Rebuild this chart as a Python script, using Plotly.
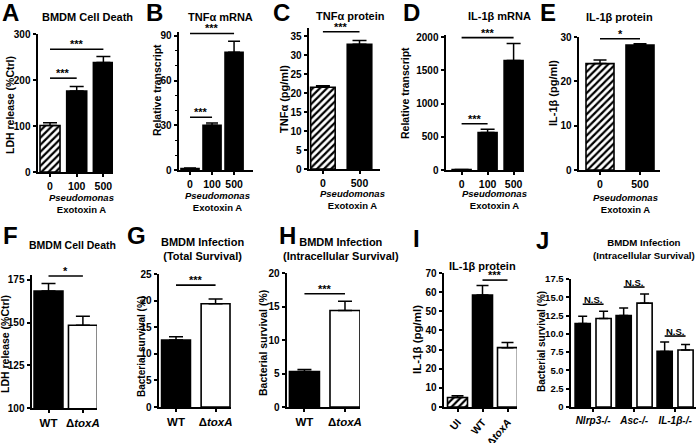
import plotly.graph_objects as go

FIG_W, FIG_H = 696, 443
FONT = "Liberation Sans"

# ---------------- data ----------------
# A  BMDM cell death vs exotoxin A dose
a_cats = ["0", "100", "500"]
a_vals = [101, 176, 238]
a_errs = [6, 10, 13]
# B  TNFa mRNA
b_cats = ["0", "100", "500"]
b_vals = [1, 30, 79]
b_errs = [0.3, 1.5, 7.5]
# C  TNFa protein
c_cats = ["0", "500"]
c_vals = [21.5, 32.8]
c_errs = [0.4, 1.0]
# D  IL-1b mRNA
d_cats = ["0", "100", "500"]
d_vals = [5, 565, 1650]
d_errs = [2, 50, 255]
# E  IL-1b protein
e_cats = ["0", "500"]
e_vals = [24.0, 28.2]
e_errs = [0.8, 0.3]
# F  BMDM cell death WT vs toxA
f_cats = ["WT", "Δ<i>toxA</i>"]
f_vals = [168.5, 148.5]
f_errs = [4.5, 5.3]
# G  total survival
g_cats = ["WT", "Δ<i>toxA</i>"]
g_vals = [12.6, 19.4]
g_errs = [0.6, 0.9]
# H  intracellular survival
h_cats = ["WT", "Δ<i>toxA</i>"]
h_vals = [5.3, 14.4]
h_errs = [0.3, 1.4]
# I  IL-1b protein
i_cats = ["UI", "WT", "Δ<i>toxA</i>"]
i_vals = [5.0, 58.5, 31.0]
i_errs = [0.9, 5.0, 2.7]
# J  intracellular survival in knockouts
j_cats = ["<i>Nlrp3-/-</i>", "<i>Asc-/-</i>", "<i>IL-1β-/-</i>"]
j_wt_vals = [11.4, 12.5, 7.6]
j_wt_errs = [1.0, 1.05, 1.3]
j_tox_vals = [12.1, 14.2, 7.8]
j_tox_errs = [1.0, 1.25, 0.75]

# significance brackets: (from category, to category, level, label)
a_sig = [(0, 1, 204, "***"), (0, 2, 267, "***")]
b_sig = [(0, 1, 35.4, "***"), (0, 2, 91.7, "***")]
c_sig = [(0, 1, 36.1, "***")]
d_sig = [(0, 1, 697, "***"), (0, 2, 1995, "***")]
e_sig = [(0, 1, 29.6, "*")]
f_sig = [(0, 1, 177.3, "*")]
g_sig = [(0, 1, 22.9, "***")]
h_sig = [(0, 1, 16.9, "***")]
i_sig = [(1, 2, 66.3, "***")]
j_sig_groups = [0, 1, 2]
j_sig_levels = [14.05, 16.4, 9.7]
j_sig_label = "N.S."

# ---------------- styles ----------------
HATCH, BLACK, WHITE = "hatch", "black", "white"


def px_x(p):
    return p / FIG_W


def px_y(p):
    return 1 - p / FIG_H


fig = go.Figure()
layout = dict(
    template="none",
    width=FIG_W, height=FIG_H,
    margin=dict(l=0, r=0, t=0, b=0, pad=0),
    paper_bgcolor="white", plot_bgcolor="white",
    showlegend=False, barmode="overlay",
    font=dict(family=FONT, size=11, color="black", weight="bold"),
)
shapes = []
annotations = []


def axis_common():
    return dict(showgrid=False, zeroline=False, showline=True, linecolor="black",
                linewidth=2, ticks="outside", tickcolor="black", tickwidth=1.5,
                fixedrange=True, automargin=False)


def add_panel(n, cats, xpx, ypx, yrange, ytickvals, xrange, ytickfont=10,
              xtickfont=10.5, yticktext=None, xtickangle=0, minor=None):
    xs = "" if n == 1 else str(n)
    xa = axis_common()
    xa.update(domain=[px_x(xpx[0]), px_x(xpx[1])], range=list(xrange),
              anchor="y" + xs, tickvals=list(range(len(cats))), ticktext=cats,
              ticklen=3, tickangle=xtickangle,
              tickfont=dict(size=xtickfont, family=FONT, weight="bold"))
    ya = axis_common()
    ya.update(domain=[px_y(ypx[1]), px_y(ypx[0])], range=list(yrange),
              anchor="x" + xs, tickvals=ytickvals, ticklen=3.5,
              tickfont=dict(size=ytickfont, family=FONT, weight="bold"))
    if yticktext is not None:
        ya["ticktext"] = yticktext
    if minor:
        ya["minor"] = dict(tickvals=minor, ticks="outside", ticklen=2,
                           tickcolor="black", tickwidth=1)
    layout["xaxis" + xs] = xa
    layout["yaxis" + xs] = ya
    return "x" + xs, "y" + xs


def add_bars(xref, yref, xs, vals, errs, fills, width, err_w, offset=None):
    # one trace per fill style so every trace has a scalar colour / pattern
    for style in (HATCH, BLACK, WHITE):
        idx = [k for k, f in enumerate(fills) if f == style]
        if not idx:
            continue
        marker = dict(color="black" if style == BLACK else "white",
                      line=dict(color="black", width=1.6))
        if style == HATCH:
            marker["pattern"] = dict(shape="/", fillmode="overlay", fgcolor="black",
                                     bgcolor="white", fgopacity=1, size=5, solidity=0.45)
        kw = dict(x=[xs[k] for k in idx], y=[vals[k] for k in idx], width=width,
                  xaxis=xref, yaxis=yref, marker=marker,
                  error_y=dict(type="data", array=[errs[k] for k in idx],
                               arrayminus=[0] * len(idx), symmetric=False,
                               color="black", thickness=1.5, width=err_w),
                  hoverinfo="skip")
        if offset is not None:
            kw["offset"] = offset
        fig.add_trace(go.Bar(**kw))


def add_sig(xref, yref, sigs, size=11):
    for x0, x1, lvl, lab in sigs:
        shapes.append(dict(type="line", xref=xref, yref=yref, x0=x0, x1=x1,
                           y0=lvl, y1=lvl, line=dict(color="black", width=1.6)))
        annotations.append(dict(xref=xref, yref=yref, x=(x0 + x1) / 2, y=lvl,
                                text=lab, showarrow=False, yanchor="bottom",
                                yshift=-3, font=dict(size=size, family=FONT, weight="bold")))


def text(xp, yp, t, size=11, angle=0, weight="bold"):
    annotations.append(dict(xref="paper", yref="paper", x=px_x(xp), y=px_y(yp),
                            text=t, showarrow=False, xanchor="center", yanchor="middle",
                            textangle=angle,
                            font=dict(size=size, family=FONT, weight=weight)))


# ---------------- panel A ----------------
xr, yr = add_panel(1, a_cats, (38, 113), (34, 172), (0, 300), [0, 100, 200, 300], (-0.45, 2.36))
add_bars(xr, yr, list(range(len(a_cats))), a_vals, a_errs, [HATCH, BLACK, BLACK], 0.75, 7)
add_sig(xr, yr, a_sig)
# ---------------- panel B ----------------
xr, yr = add_panel(2, b_cats, (179, 253), (31.5, 170), (0, 93), [0, 30, 60, 90], (-0.5, 2.86),
                   minor=[10, 20, 40, 50, 70, 80])
add_bars(xr, yr, list(range(len(b_cats))), b_vals, b_errs, [BLACK, BLACK, BLACK], 0.82, 6)
add_sig(xr, yr, b_sig)
# ---------------- panel C ----------------
xr, yr = add_panel(3, c_cats, (309, 380), (28.4, 169), (0, 37), [0, 5, 10, 15, 20, 25, 30, 35], (-0.38, 1.56))
add_bars(xr, yr, list(range(len(c_cats))), c_vals, c_errs, [HATCH, BLACK], 0.67, 7)
add_sig(xr, yr, c_sig)
# ---------------- panel D ----------------
xr, yr = add_panel(4, d_cats, (446, 524), (35.3, 170), (0, 2030), [0, 500, 1000, 1500, 2000], (-0.6, 2.4))
add_bars(xr, yr, list(range(len(d_cats))), d_vals, d_errs, [BLACK, BLACK, BLACK], 0.73, 7)
add_sig(xr, yr, d_sig)
# ---------------- panel E ----------------
xr, yr = add_panel(5, e_cats, (579, 660), (37, 170), (0, 30), [0, 10, 20, 30], (-0.525, 1.5))
add_bars(xr, yr, list(range(len(e_cats))), e_vals, e_errs, [HATCH, BLACK], 0.7, 6.5)
add_sig(xr, yr, e_sig)
# ---------------- panel F ----------------
xr, yr = add_panel(6, f_cats, (32, 97), (274.5, 408), (100, 178.2), [100, 125, 150, 175], (-0.48, 1.41),
                   xtickfont=11.5)
add_bars(xr, yr, list(range(len(f_cats))), f_vals, f_errs, [BLACK, WHITE], 0.84, 7)
add_sig(xr, yr, f_sig)
# ---------------- panel G ----------------
xr, yr = add_panel(7, g_cats, (159, 231), (274, 407), (0, 25), [0, 5, 10, 15, 20, 25], (-0.43, 1.39),
                   xtickfont=11.5)
add_bars(xr, yr, list(range(len(g_cats))), g_vals, g_errs, [BLACK, WHITE], 0.73, 7)
add_sig(xr, yr, g_sig)
# ---------------- panel H ----------------
xr, yr = add_panel(8, h_cats, (287, 360), (273, 407), (0, 20), [0, 5, 10, 15, 20], (-0.43, 1.37),
                   xtickfont=11.5)
add_bars(xr, yr, list(range(len(h_cats))), h_vals, h_errs, [BLACK, WHITE], 0.74, 7)
add_sig(xr, yr, h_sig)
# ---------------- panel I ----------------
xr, yr = add_panel(9, i_cats, (444, 517), (273, 407), (0, 70), [0, 10, 20, 30, 40, 50, 60, 70],
                   (-0.54, 2.38), xtickfont=10.5, xtickangle=-50)
add_bars(xr, yr, list(range(len(i_cats))), i_vals, i_errs, [HATCH, BLACK, WHITE], 0.8, 6)
add_sig(xr, yr, i_sig)
# ---------------- panel J ----------------
j_ticks = [0, 2.5, 5, 7.5, 10, 12.5, 15, 17.5]
xr, yr = add_panel(10, j_cats, (571, 696), (279, 407), (0, 17.5), j_ticks, (-0.54, 2.51),
                   ytickfont=9.5, xtickfont=10,
                   yticktext=["0" if v == 0 else f"{v:.1f}" for v in j_ticks])
J_W, J_OFF_WT, J_OFF_TOX = 0.37, -0.44, 0.07
jx = list(range(len(j_cats)))
add_bars(xr, yr, jx, j_wt_vals, j_wt_errs, [BLACK] * 3, J_W, 4.5, offset=J_OFF_WT)
add_bars(xr, yr, jx, j_tox_vals, j_tox_errs, [WHITE] * 3, J_W, 4.5, offset=J_OFF_TOX)
add_sig(xr, yr, [(g + J_OFF_WT + J_W / 2, g + J_OFF_TOX + J_W / 2, lvl, j_sig_label)
                 for g, lvl in zip(j_sig_groups, j_sig_levels)], size=9.5)

# ---------------- texts ----------------
# panel letters
for letter, xp, yp in [("A", 10, 12), ("B", 154, 12), ("C", 281, 12), ("D", 411, 12), ("E", 548, 12),
                       ("F", 10, 235), ("G", 136, 236), ("H", 287, 236), ("I", 416, 239), ("J", 542, 240)]:
    text(xp, yp, letter, size=24)

# titles
text(87, 17, "BMDM Cell Death", 11)
text(220, 17, "TNFα mRNA", 11)
text(350, 16, "TNFα protein", 11)
text(500, 16, "IL-1β mRNA", 11)
text(619, 17, "IL-1β protein", 11)
text(72, 245, "BMDM Cell Death", 10.5)
text(202, 249.5, "BMDM Infection<br>(Total Survival)", 11)
text(341, 249.5, "BMDM Infection<br>(Intracellular Survival)", 11)
text(482, 265.5, "IL-1β protein", 11)
text(644, 249.5, "BMDM Infection<br>(Intracellular Survival)", 9.7)

# y axis titles
text(10, 105, "LDH release (%Ctrl)", 10.5, -90)
text(157, 90, "Relative transcript", 10.5, -90)
text(284, 99, "TNFα (pg/ml)", 11, -90)
text(405, 93, "Relative transcript", 10.5, -90)
text(553, 93, "IL-1β (pg/ml)", 11, -90)
text(5, 344, "LDH release (%Ctrl)", 10.5, -90)
text(141, 347, "Bacterial survival (%)", 10, -90)
text(263, 343, "Bacterial survival (%)", 10.5, -90)
text(417, 340, "IL-1β (pg/ml)", 11.5, -90)
text(541, 342, "Bacterial survival (%)", 10, -90)

# x axis sub-titles
for xp, yp in [(81, 203.5), (218, 201.5), (352, 200), (494, 200), (625, 203)]:
    text(xp, yp, "<i>Pseudomonas</i><br>Exotoxin A", 9.5)

layout["shapes"] = shapes
layout["annotations"] = annotations
fig.update_layout(**layout)
fig.write_html("out.html", config={"displayModeBar": False},
               post_script="document.body.style.margin='0';document.body.style.padding='0';")
